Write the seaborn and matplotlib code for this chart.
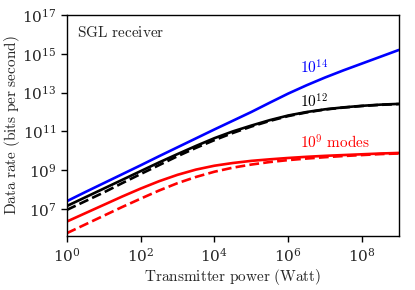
import numpy as np
import pandas as pd
import matplotlib
matplotlib.use("Agg")
import matplotlib.pyplot as plt
import seaborn as sns
from matplotlib.ticker import LogFormatterSciNotation, NullLocator, FixedLocator

# transmitter power exponents (10^x W)
log_power = [0, 0.5, 1, 1.5, 2, 2.5, 3, 3.5, 4, 4.5, 5, 5.5, 6, 6.5, 7, 7.5, 8, 8.5, 9]
# log10 data rate (bits/s)
blue_1e14 = [7.40, 7.87, 8.33, 8.79, 9.25, 9.72, 10.18, 10.64, 11.10, 11.55, 12.00, 12.48, 12.95, 13.38, 13.78, 14.15, 14.50, 14.85, 15.20]
black_1e12 = [7.15, 7.60, 8.05, 8.50, 8.95, 9.40, 9.83, 10.25, 10.65, 11.00, 11.30, 11.58, 11.82, 12.00, 12.14, 12.24, 12.32, 12.38, 12.42]
black_1e12_d = [6.95, 7.40, 7.85, 8.33, 8.80, 9.26, 9.72, 10.15, 10.55, 10.92, 11.25, 11.54, 11.79, 11.98, 12.13, 12.23, 12.31, 12.37, 12.41]
red_1e9 = [6.35, 6.78, 7.21, 7.64, 8.05, 8.43, 8.76, 9.03, 9.23, 9.37, 9.48, 9.56, 9.63, 9.69, 9.74, 9.78, 9.82, 9.86, 9.89]
red_1e9_d = [5.75, 6.20, 6.65, 7.10, 7.53, 7.95, 8.33, 8.65, 8.92, 9.13, 9.29, 9.42, 9.52, 9.60, 9.67, 9.73, 9.78, 9.83, 9.86]

tick_x = [1e0, 1e2, 1e4, 1e6, 1e8]
tick_y = [1e7, 1e9, 1e11, 1e13, 1e15, 1e17]

sns.set_theme(style="ticks")
plt.rcParams["font.family"] = ["DejaVu Serif"]
plt.rcParams["mathtext.fontset"] = "cm"

fig = plt.figure(figsize=(4.15, 2.9), dpi=100)
ax = fig.add_axes([0.161, 0.186, 0.8, 0.762])

P = 10 ** np.array(log_power)
series = [
    (blue_1e14, "blue", "-"),
    (black_1e12, "black", "-"),
    (black_1e12_d, "black", "--"),
    (red_1e9, "red", "-"),
    (red_1e9_d, "red", "--"),
]
for vals, col, ls in series:
    df = pd.DataFrame({"P": P, "C": 10 ** np.array(vals)})
    sns.lineplot(data=df, x="P", y="C", ax=ax, color=col, linestyle=ls, lw=1.9)

ax.set_xscale("log")
ax.set_yscale("log")
ax.set_xlim(1, 1e9)
ax.set_ylim(4e5, 1e17)
ax.xaxis.set_major_locator(FixedLocator(tick_x))
ax.yaxis.set_major_locator(FixedLocator(tick_y))
ax.xaxis.set_major_formatter(LogFormatterSciNotation())
ax.yaxis.set_major_formatter(LogFormatterSciNotation())
ax.xaxis.set_minor_locator(NullLocator())
ax.yaxis.set_minor_locator(NullLocator())
ax.tick_params(axis="both", which="major", labelsize=11, length=4, width=1, direction="out", color="black")
for s in ax.spines.values():
    s.set_color("black")
    s.set_linewidth(1.0)

ax.set_xlabel(r"$\mathrm{Transmitter\ power\ (Watt)}$", fontsize=11, labelpad=2)
ax.set_ylabel(r"$\mathrm{Data\ rate\ (bits\ per\ second)}$", fontsize=11, labelpad=0)

ax.text(0.03, 0.92, r"$\mathrm{SGL\ receiver}$", transform=ax.transAxes, fontsize=11, va="center", ha="left")
ax.text(10**6.31, 10**14.27, r"$10^{14}$", color="blue", fontsize=11, va="center", ha="left")
ax.text(10**6.31, 10**12.52, r"$10^{12}$", color="black", fontsize=11, va="center", ha="left")
ax.text(10**6.31, 10**10.4, r"$10^{9}\ \mathrm{modes}$", color="red", fontsize=11, va="center", ha="left")

fig.savefig("out.png", dpi=100)
